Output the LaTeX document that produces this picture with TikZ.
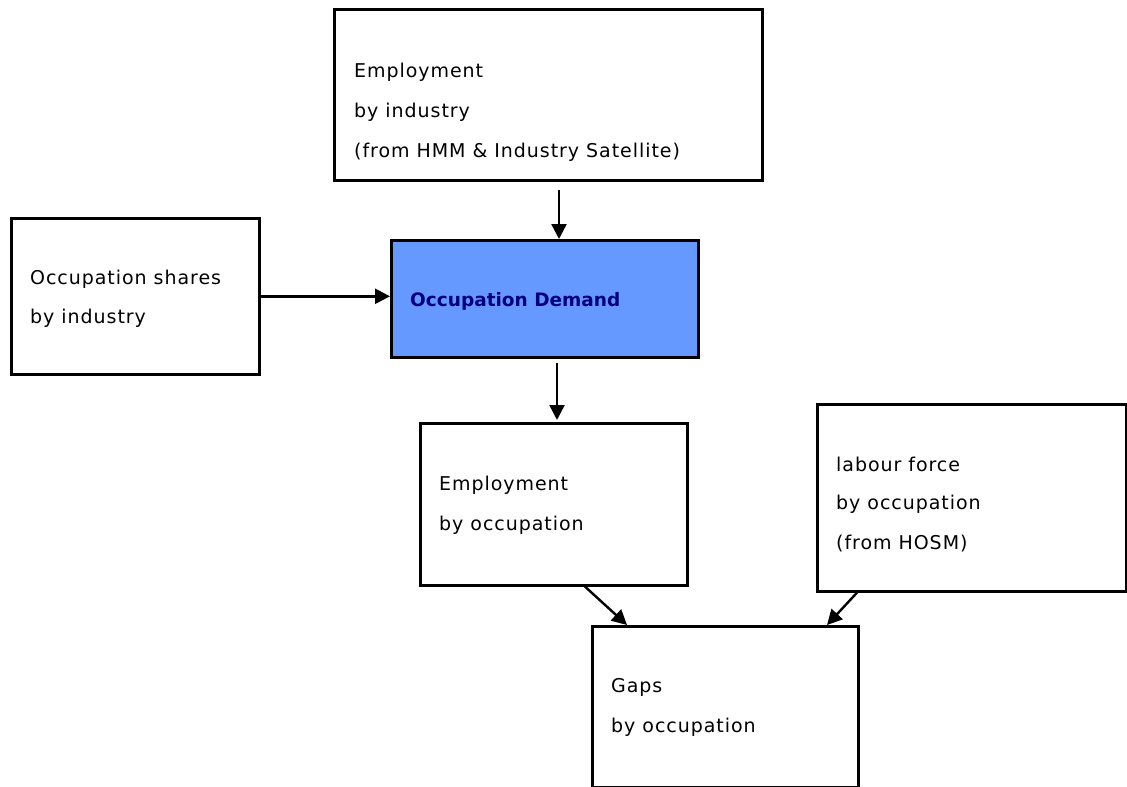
\documentclass[tikz,border=0pt]{standalone}
\usepackage{fontspec}
\setmainfont{DejaVu Sans}
\newfontfamily\spacedfont[LetterSpace=5]{DejaVu Sans}
\usetikzlibrary{arrows.meta}
\definecolor{boxblue}{HTML}{6699FF}
\definecolor{navytext}{HTML}{000080}
\begin{document}
\begin{tikzpicture}[x=1pt,y=-1pt,
  box/.style={draw=black,line width=2.6pt,inner sep=0pt,anchor=north west,fill=white},
  bluebox/.style={box,fill=boxblue},
  lbl/.style={anchor=base west,inner sep=0pt,font=\spacedfont\fontsize{19}{22}\selectfont},
  bluelbl/.style={anchor=base west,inner sep=0pt,font=\fontsize{18.5}{22}\selectfont\bfseries,text=navytext},
  arr/.style={line width=2.4pt,-{Triangle[length=15pt,width=15pt]}}]
\useasboundingbox[fill=white] (0,0) rectangle (1127,787);
% boxes
\node[box,minimum width=428pt,minimum height=171pt] (top) at (333,8) {};
\node[box,minimum width=248pt,minimum height=156pt] (left) at (10,217) {};
\node[bluebox,minimum width=307pt,minimum height=117pt] (demand) at (390,239) {};
\node[box,minimum width=267pt,minimum height=162pt] (empocc) at (419,422) {};
\node[box,minimum width=309pt,minimum height=187pt] (labour) at (816,403) {};
\node[box,minimum width=266pt,minimum height=161pt] (gaps) at (591,625) {};
% labels
\node[lbl] (t1) at (354,77) {Employment};
\node[lbl] (t2) at (354,117) {by industry};
\node[lbl] (t3) at (354,157) {(from HMM \& Industry Satellite)};
\node[lbl] (l1) at (30,284) {Occupation shares};
\node[lbl] (l2) at (30,323) {by industry};
\node[bluelbl] (d1) at (410,306) {Occupation Demand};
\node[lbl] (e1) at (439,490) {Employment};
\node[lbl] (e2) at (439,530) {by occupation};
\node[lbl] (f1) at (836,471) {labour force};
\node[lbl] (f2) at (836,509) {by occupation};
\node[lbl] (f3) at (836,549) {(from HOSM)};
\node[lbl] (g1) at (611,692) {Gaps};
\node[lbl] (g2) at (611,732) {by occupation};
% connector x positions
\coordinate (ax1) at (559,0);
\coordinate (ax2) at (557,0);
\coordinate (ax3) at (585,0);
\coordinate (ax4) at (627,0);
\coordinate (ax5) at (857,0);
\coordinate (ax6) at (827,0);
% connectors
\draw[arr] ([yshift=-8pt]top.south -| ax1) -- (demand.north -| ax1);
\draw[arr] (left.east) -- (left.east -| demand.west);
\draw[arr] ([yshift=-4pt]demand.south -| ax2) -- ([yshift=2pt]empocc.north -| ax2);
\draw[arr] (empocc.south -| ax3) -- (gaps.north -| ax4);
\draw[arr] (labour.south -| ax5) -- (gaps.north -| ax6);
\end{tikzpicture}
\end{document}
